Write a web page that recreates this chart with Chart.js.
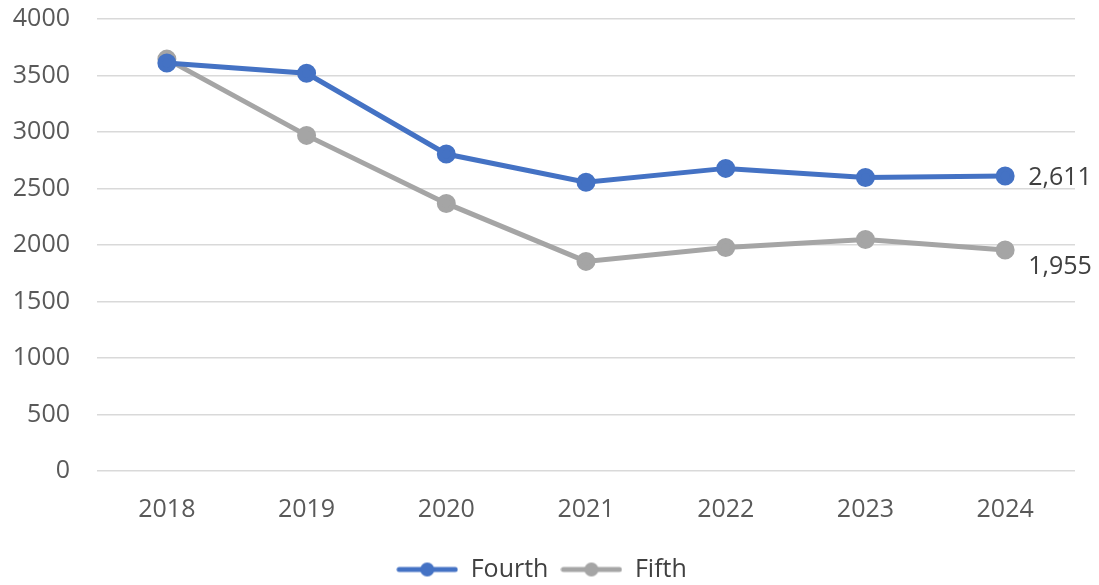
<!DOCTYPE html>
<html>
<head>
<meta charset="utf-8">
<script src="https://cdn.jsdelivr.net/npm/chart.js@4"></script>
<style>
  html, body { margin: 0; padding: 0; background: #fff; }
  #wrap { width: 1099px; height: 585px; }
</style>
</head>
<body>
<div id="wrap"><canvas id="chart" width="1099" height="585"></canvas></div>
<script>
const years = ['2018', '2019', '2020', '2021', '2022', '2023', '2024'];
const fourth = [3610, 3520, 2805, 2555, 2678, 2598, 2611];
const fifth = [3645, 2970, 2368, 1855, 1978, 2048, 1955];
const yTicks = [0, 500, 1000, 1500, 2000, 2500, 3000, 3500, 4000];

const BLUE = '#4472C4';
const GRAY = '#A5A5A5';
const FONT = "'Open Sans', 'Noto Sans', sans-serif";
const FS = 25;

// legend marker: line with a dot in the middle
function legendMarker(color) {
  const c = document.createElement('canvas');
  c.width = 62; c.height = 16;
  const g = c.getContext('2d');
  g.strokeStyle = color; g.lineWidth = 5; g.lineCap = 'round';
  g.beginPath(); g.moveTo(3, 8); g.lineTo(59, 8); g.stroke();
  g.fillStyle = color;
  g.beginPath(); g.arc(31, 8, 7, 0, Math.PI * 2); g.fill();
  return c;
}

const endLabels = {
  id: 'endLabels',
  afterDatasetsDraw(chart) {
    const ctx = chart.ctx;
    ctx.save();
    ctx.font = `${FS}px ${FONT}`;
    ctx.fillStyle = '#404040';
    ctx.textAlign = 'left';
    ctx.textBaseline = 'middle';
    const offsets = [2, 17];
    chart.data.datasets.forEach((ds, i) => {
      const meta = chart.getDatasetMeta(i);
      const last = meta.data[meta.data.length - 1];
      const v = ds.data[ds.data.length - 1];
      ctx.fillText(v.toLocaleString('en-US'), last.x + 23, last.y + offsets[i]);
    });
    ctx.restore();
  }
};

// nudge the legend a little lower, like the original
const legendShift = {
  id: 'legendShift',
  afterLayout(chart) {
    if (chart.legend) { chart.legend.top += 7; chart.legend.bottom += 7; }
  }
};

new Chart(document.getElementById('chart'), {
  type: 'line',
  data: {
    labels: years,
    datasets: [
      { label: 'Fourth', data: fourth, borderColor: BLUE, backgroundColor: BLUE,
        borderWidth: 5, pointRadius: 7, pointHoverRadius: 7, pointStyle: 'circle',
        tension: 0, fill: false },
      { label: 'Fifth', data: fifth, borderColor: GRAY, backgroundColor: GRAY,
        borderWidth: 5, pointRadius: 7, pointHoverRadius: 7, pointStyle: 'circle',
        tension: 0, fill: false }
    ]
  },
  options: {
    responsive: false,
    animation: false,
    layout: { autoPadding: false, padding: { left: 8, right: 24, top: 19, bottom: 0 } },
    plugins: {
      legend: {
        position: 'bottom',
        labels: {
          font: { family: FONT, size: FS },
          color: '#404040',
          usePointStyle: true,
          pointStyleWidth: 62,
          boxHeight: 16,
          padding: 12,
          generateLabels(chart) {
            return chart.data.datasets.map((ds, i) => ({
              text: ds.label,
              fontColor: '#404040',
              pointStyle: legendMarker(ds.borderColor),
              strokeStyle: ds.borderColor,
              fillStyle: ds.borderColor,
              lineWidth: 0,
              datasetIndex: i
            }));
          }
        }
      },
      tooltip: { enabled: false }
    },
    scales: {
      x: {
        offset: true,
        afterFit(axis) { axis.height -= 3; },
        grid: { display: false },
        border: { display: false },
        ticks: { font: { family: FONT, size: FS }, color: '#595959', padding: 16 }
      },
      y: {
        min: 0,
        max: 4000,
        afterBuildTicks(axis) { axis.ticks = yTicks.map(v => ({ value: v })); },
        afterFit(axis) { axis.width = 89; axis.paddingTop = 0; axis.paddingBottom = 0; },
        grid: { color: '#D9D9D9', lineWidth: 1.5, drawTicks: false },
        border: { display: false },
        ticks: { font: { family: FONT, size: FS }, color: '#595959', padding: 27,
                 callback: v => String(v) }
      }
    }
  },
  plugins: [endLabels, legendShift]
});
</script>
</body>
</html>
